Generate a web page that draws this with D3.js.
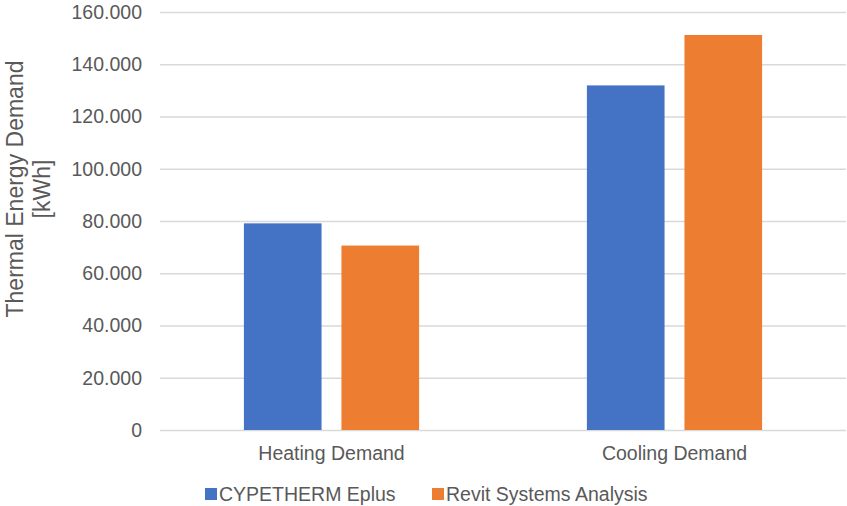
<!DOCTYPE html>
<html>
<head>
<meta charset="utf-8">
<script src="https://d3js.org/d3.v7.min.js"></script>
<style>
  body { margin: 0; background: #ffffff; }
  text { font-family: "Liberation Sans", Arial, sans-serif; fill: #595959; }
</style>
</head>
<body>
<div id="chart"></div>
<script>
// data
const CATEGORIES = ["Heating Demand", "Cooling Demand"];
const SERIES = ["CYPETHERM Eplus", "Revit Systems Analysis"];
const CYPETHERM_VALUES = [79100, 131900];
const REVIT_VALUES = [70600, 151200];
const Y_TICKS = [0, 20000, 40000, 60000, 80000, 100000, 120000, 140000, 160000];

const COLORS = ["#4472C4", "#ED7D31"];

// frame
const FRAME_WIDTH = 847;
const FRAME_HEIGHT = 506;
const MARGINS = {left: 160, right: 1, top: 12, bottom: 76};

const VIS_WIDTH = FRAME_WIDTH - MARGINS.left - MARGINS.right;
const VIS_HEIGHT = FRAME_HEIGHT - MARGINS.top - MARGINS.bottom;

const FRAME = d3.select("#chart")
                .append("svg")
                  .attr("width", FRAME_WIDTH)
                  .attr("height", FRAME_HEIGHT);

// number format with dots as thousands separator
const LOCALE = d3.formatLocale({decimal: ",", thousands: ".", grouping: [3], currency: ["", ""]});
const FMT = LOCALE.format(",d");

// scales
const X_SCALE = d3.scaleBand()
                  .domain(CATEGORIES)
                  .range([0, VIS_WIDTH]);

const X_INNER = d3.scaleBand()
                  .domain(SERIES)
                  .range([0, X_SCALE.bandwidth()])
                  .paddingInner(0.204)
                  .paddingOuter(0.86);

const Y_SCALE = d3.scaleLinear()
                  .domain([0, 160000])
                  .range([VIS_HEIGHT, 0]);

const PLOT = FRAME.append("g")
                  .attr("transform", "translate(" + MARGINS.left + "," + MARGINS.top + ")");

// gridlines + y tick labels
const Y_AXIS = PLOT.append("g")
                   .call(d3.axisLeft(Y_SCALE)
                           .tickValues(Y_TICKS)
                           .tickSize(-VIS_WIDTH)
                           .tickPadding(18)
                           .tickFormat(FMT));
Y_AXIS.select(".domain").remove();
Y_AXIS.selectAll(".tick line")
      .attr("stroke", "#D9D9D9")
      .attr("stroke-width", 1.3);
Y_AXIS.selectAll(".tick text")
      .attr("font-size", "19.5px")
      .attr("fill", "#595959");

// x axis labels
const X_AXIS = PLOT.append("g")
                   .attr("transform", "translate(0," + VIS_HEIGHT + ")")
                   .call(d3.axisBottom(X_SCALE).tickSize(0).tickPadding(16));
X_AXIS.select(".domain").remove();
X_AXIS.selectAll(".tick text")
      .attr("font-size", "19.5px")
      .attr("fill", "#595959");

// bars
const ROWS = CATEGORIES.map((c, i) => ({category: c, values: [CYPETHERM_VALUES[i], REVIT_VALUES[i]]}));

const GROUPS = PLOT.selectAll(".group")
                   .data(ROWS)
                   .enter()
                   .append("g")
                     .attr("class", "group")
                     .attr("transform", (d) => "translate(" + X_SCALE(d.category) + ",0)");

GROUPS.selectAll("rect")
      .data((d) => d.values.map((v, j) => ({series: SERIES[j], value: v, color: COLORS[j]})))
      .enter()
      .append("rect")
        .attr("x", (d) => X_INNER(d.series))
        .attr("y", (d) => Y_SCALE(d.value))
        .attr("width", X_INNER.bandwidth())
        .attr("height", (d) => VIS_HEIGHT - Y_SCALE(d.value))
        .attr("fill", (d) => d.color);

// y axis title (two lines)
const TITLE = FRAME.append("text")
                   .attr("transform", "translate(23,189) rotate(-90)")
                   .attr("text-anchor", "middle")
                   .attr("font-size", "23px");
TITLE.append("tspan").attr("x", 0).attr("dy", 0).text("Thermal Energy Demand");
TITLE.append("tspan").attr("x", 0).attr("dy", 27).text("[kWh]");

// legend
const LEGEND_X = [205, 432];
const LEGEND = FRAME.selectAll(".legend")
                    .data(SERIES)
                    .enter()
                    .append("g")
                      .attr("class", "legend")
                      .attr("transform", (d, i) => "translate(" + LEGEND_X[i] + ",488)");

LEGEND.append("rect")
      .attr("width", 12)
      .attr("height", 12)
      .attr("fill", (d, i) => COLORS[i]);

LEGEND.append("text")
      .attr("x", 14)
      .attr("y", 13)
      .attr("font-size", "19.5px")
      .text((d) => d);
</script>
</body>
</html>
